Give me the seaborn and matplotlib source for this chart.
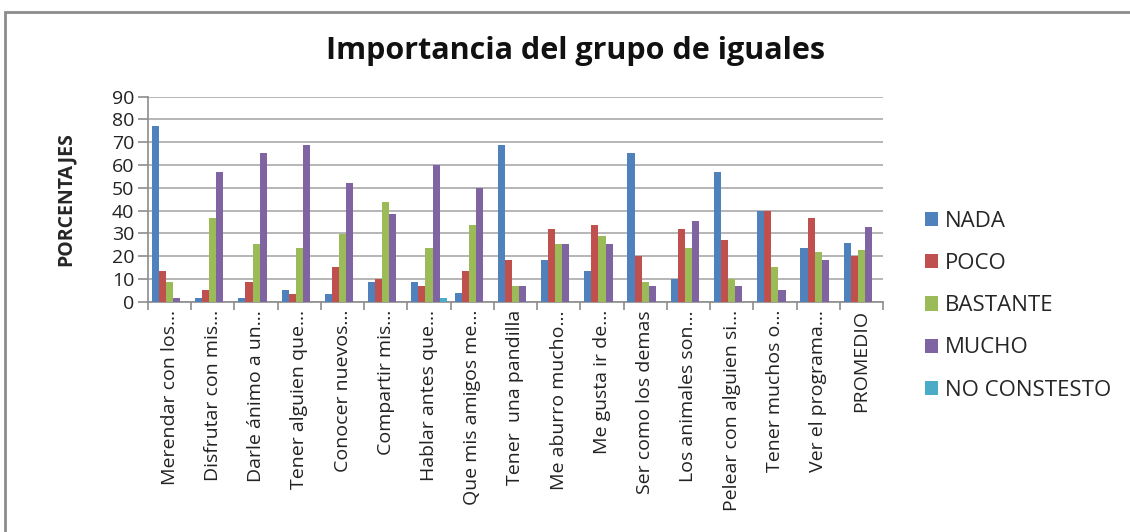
import numpy as np
import pandas as pd
import matplotlib.pyplot as plt
import seaborn as sns
from matplotlib.patches import Rectangle

# categories and series (percentages)
categorias = ['Merendar con los…', 'Disfrutar con mis…', 'Darle ánimo a un…',
              'Tener alguien que…', 'Conocer nuevos…', 'Compartir mis…',
              'Hablar antes que…', 'Que mis amigos me…', 'Tener  una pandilla',
              'Me aburro mucho…', 'Me gusta ir de…', 'Ser como los demas',
              'Los animales son…', 'Pelear con alguien si…', 'Tener muchos o…',
              'Ver el programa…', 'PROMEDIO']
nada = [77, 1.8, 1.8, 5, 3.5, 8.5, 8.5, 3.7, 68.6, 18.3, 13.5, 65.1, 9.8, 57, 40, 23.7, 25.6]
poco = [13.5, 5.1, 8.5, 3.5, 15.4, 9.8, 6.9, 13.5, 18.3, 32, 33.5, 20, 32, 27.1, 40, 36.9, 20]
bastante = [8.5, 36.9, 25.2, 23.7, 29.9, 43.6, 23.7, 33.5, 6.9, 25.2, 28.7, 8.5, 23.7, 9.8, 15.4, 21.7, 22.6]
mucho = [1.8, 57, 65.1, 68.6, 52, 38.4, 60.1, 49.9, 6.9, 25.2, 25.2, 6.9, 35.4, 6.9, 5, 18.3, 32.7]
no_contesto = [0, 0, 0, 0, 0, 0, 1.5, 0, 0, 0, 0, 0, 0, 0, 0, 0, 0]
series = ['NADA', 'POCO', 'BASTANTE', 'MUCHO', 'NO CONSTESTO']
colores = ['#4F81BD', '#C0504D', '#9BBB59', '#8064A2', '#4BACC6']

valores = [nada, poco, bastante, mucho, no_contesto]
df = pd.DataFrame({
    'categoria': categorias * len(series),
    'serie': np.repeat(series, len(categorias)),
    'valor': np.concatenate(valores),
})

sns.set_style('white')
plt.rcParams['font.family'] = ['Open Sans', 'DejaVu Sans']

fig = plt.figure(figsize=(11.3, 5.32), dpi=100)
ax = fig.add_axes([148 / 1130, 1 - 301.7 / 532, 735 / 1130, 205 / 532])

sns.barplot(data=df, x='categoria', y='valor', hue='serie', palette=colores,
            hue_order=series, order=categorias, width=0.82, gap=0,
            saturation=1, errorbar=None, linewidth=0, ax=ax, zorder=3)

ax.set_ylim(0, 90)
ax.set_yticks(range(0, 91, 10))
ax.set_xlim(-0.5, len(categorias) - 0.5)
ax.yaxis.grid(True, color='#B5B5B5', linewidth=1.4, zorder=0)
ax.set_axisbelow(True)
for s in ['top', 'right']:
    ax.spines[s].set_visible(False)
for s in ['left', 'bottom']:
    ax.spines[s].set_color('#8C8C8C')
    ax.spines[s].set_linewidth(1.2)

ax.tick_params(axis='y', direction='out', length=7, color='#8C8C8C', width=1.2,
               labelsize=14, pad=3, labelcolor='#222222', left=True)
ax.set_xticks(np.arange(len(categorias)))
ax.set_xticklabels(categorias, rotation=90, fontsize=14, color='#222222')
ax.tick_params(axis='x', length=0, pad=6)
ax.set_xticks(np.arange(len(categorias) + 1) - 0.5, minor=True)
ax.tick_params(axis='x', which='minor', direction='out', length=6,
               color='#8C8C8C', width=1.2, bottom=True)

ax.set_xlabel('')
ax.set_ylabel('PORCENTAJES', fontsize=14, fontweight='bold', labelpad=26)

ax.legend(loc='center left', bbox_to_anchor=(1.03, -0.02), frameon=False,
          fontsize=16, handlelength=0.6, handleheight=0.6, handletextpad=0.3,
          labelspacing=0.95)

fig.text(576 / 1130, 1 - 51 / 532, 'Importancia del grupo de iguales',
         ha='center', va='center', fontsize=22, fontweight='bold', color='#111111')

fig.patches.append(Rectangle((5 / 1130, -0.1), 1.2, 1 - 12 / 532 + 0.1,
                             transform=fig.transFigure, fill=False,
                             edgecolor='#8C8C8C', linewidth=2))

fig.savefig('out.png', dpi=100)
